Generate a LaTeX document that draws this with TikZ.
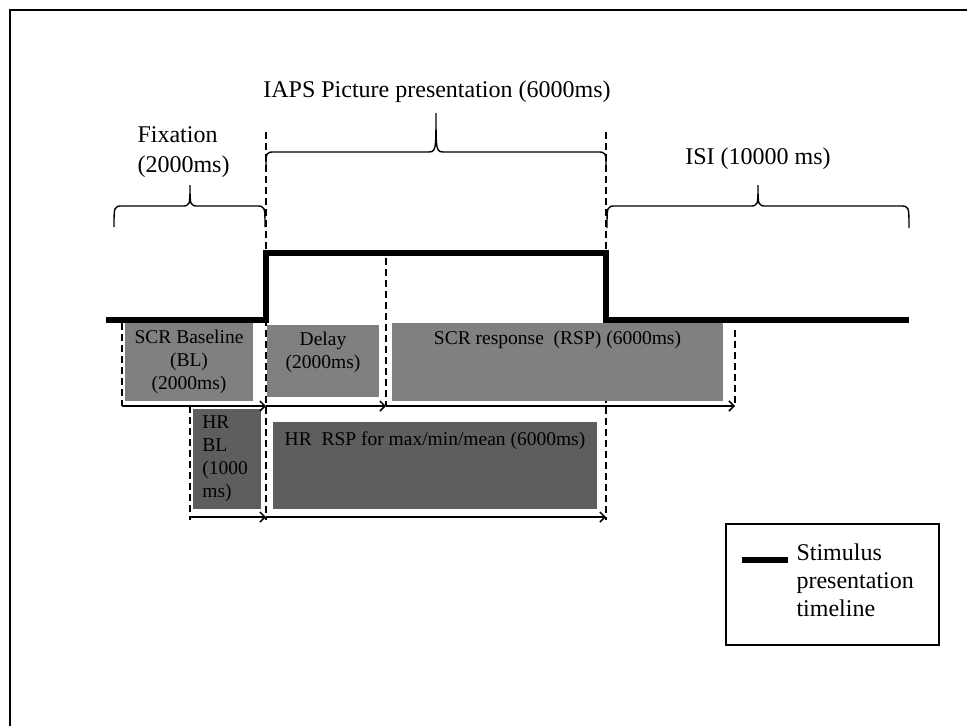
\documentclass[tikz,border=0pt]{standalone}
\usepackage{fontspec}
\setmainfont{Liberation Serif}
\usetikzlibrary{positioning,arrows.meta}
\tikzset{
  >={Straight Barb[length=5pt,width=10pt]},
  timeline/.style={line width=6pt, line join=miter},
  guide/.style={dash pattern=on 7pt off 4pt, line width=1.3pt},
  span/.style={->, line width=1.5pt},
  bracepen/.style={line width=1.4pt},
  win/.style 2 args={inner sep=0pt, minimum width=#1, minimum height=#2},
  scr/.style={fill=black!50},
  hr/.style={fill=black!63},
  boxtxt/.style={font=\fontsize{19.5}{23}\selectfont, align=center},
  toptxt/.style={font=\fontsize{24}{30}\selectfont, align=center},
  legtxt/.style={font=\fontsize{24}{28}\selectfont, align=left}
}
% curly brace over a time span: x1, xmid, x2, y of ends, y of bar, y of tip
\newcommand{\spanbrace}[6]{%
  \draw[bracepen] (#1,#4) .. controls (#1,#5) .. (#1+9,#5) -- (#2-9,#5)
    .. controls (#2,#5) .. (#2,#6) .. controls (#2,#5) .. (#2+9,#5)
    -- (#3-9,#5) .. controls (#3,#5) .. (#3,#4);}

\begin{document}
\begin{tikzpicture}[x=1pt, y=-1pt]
\useasboundingbox (0,0) rectangle (967,726);
% frame
\draw[line width=2pt] (10,726) -- (10,10) -- (967,10);

% phase labels and braces
\node[toptxt, align=left, anchor=west] (fix) at (134,152) {Fixation\\(2000ms)};
\node[toptxt] (iaps) at (437,92) {IAPS Picture presentation (6000ms)};
\node[toptxt] (isi) at (758,159) {ISI (10000 ms)};
\spanbrace{114}{190}{265}{227}{206}{185}
\spanbrace{266}{436}{606}{168}{152}{113}
\spanbrace{607}{758}{909}{228}{206}{185}

% time marks
\coordinate (bl0) at (122,406);
\coordinate (bl1) at (266,406);
\coordinate (dl1) at (386,406);
\coordinate (rsp1) at (735,406);
\coordinate (hr0) at (190,517);
\coordinate (hr1) at (266,517);
\coordinate (hr2) at (606,517);

% dashed guides
\draw[guide] (266,132) -- (266,520);
\draw[guide] (606,132) -- (606,520);
\draw[guide] (122,323) -- (bl0);
\draw[guide] (386,258) -- (dl1);
\draw[guide] (735,330) -- (rsp1);
\draw[guide] (190,406) -- (190,520);

% stimulus timeline
\draw[timeline] (106,320) -- (266,320) -- (266,253) -- (606,253) -- (606,320) -- (909,320);

% windows
\node[win={128pt}{78pt}, scr, boxtxt] (scrbl) at (189,362) {SCR Baseline\\(BL)\\(2000ms)};
\node[win={112pt}{72pt}, scr,
  label={[boxtxt, anchor=north, yshift=-4pt]north:{Delay\\(2000ms)}}] (delay) at (323,361) {};
\node[win={331pt}{78pt}, scr,
  label={[boxtxt, anchor=north, yshift=-5pt]north:SCR response~~(RSP) (6000ms)}] (scrrsp) at (557.5,362) {};
\node[win={68pt}{100pt}, hr,
  label={[boxtxt, align=left, anchor=north west, xshift=6pt, yshift=-3pt]north west:{HR\\BL\\(1000\\ms)}}] (hrbl) at (227,459) {};
\node[win={324pt}{87pt}, hr,
  label={[boxtxt, anchor=north, yshift=-6pt]north:HR~~RSP for max/min/mean (6000ms)}] (hrrsp) at (435,465.5) {};

% spans
\draw[span] (bl0) -- (bl1);
\draw[span] (bl1) -- (dl1);
\draw[span] (dl1) -- (rsp1);
\draw[span] (hr0) -- (hr1);
\draw[span] (hr1) -- (hr2);

% legend
\node[draw, line width=1.5pt, win={213pt}{121pt}] (legend) at (832.5,584.5) {};
\coordinate (lg0) at (742,560);
\coordinate (lg1) at (788,560);
\draw[timeline] (lg0) -- (lg1);
\node[legtxt, anchor=west] (legend text) at (793,580) {Stimulus\\presentation\\timeline};
\end{tikzpicture}
\end{document}
